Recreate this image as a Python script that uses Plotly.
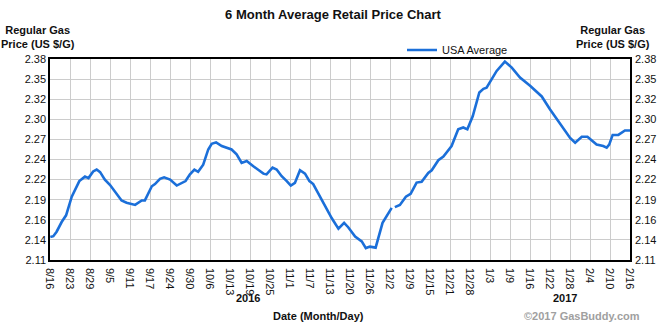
import numpy as np
import plotly.graph_objects as go

# Days since 2016-08-16 and the USA average regular gas price ($/gal)
days = [0.1, 1.05, 2.1, 3.7, 5.1, 6.9, 9.3, 11.1, 12.2, 13.7, 14.8, 15.9, 17.4, 19.0,
        22.7, 24.3, 27.0, 29.1, 30.1, 32.3, 33.3, 34.9, 36.2, 38.1, 40.2, 41.8, 43.0,
        44.4, 45.8, 47.0, 48.6, 50.2, 51.3, 52.7, 54.5, 57.6, 59.2, 60.8, 62.4, 64.5,
        67.7, 68.7, 70.6, 71.9, 73.5, 75.1, 76.4, 77.7, 79.3, 80.9, 82.3, 83.5, 85.7,
        87.6, 89.4, 91.5, 93.3, 94.6, 96.8, 98.9, 100.2, 101.5, 103.3, 105.5, 106.8,
        108.4, 108.9, 109.4, 111.0, 112.9, 114.4, 116.3, 117.9, 120.0, 121.1, 123.2,
        124.8, 127.4, 129.5, 131.1, 132.4, 134.1, 136.2, 137.5, 138.5, 141.7, 144.3,
        146.5, 149.1, 152.3, 156.0, 158.6, 162.8, 165.0, 166.6, 168.7, 170.5, 173.4,
        175.5, 176.6, 177.4, 178.5, 180.3, 182.4, 184.0]
prices = [2.141, 2.142, 2.148, 2.161, 2.170, 2.195, 2.216, 2.222, 2.220, 2.229, 2.2315,
          2.228, 2.218, 2.211, 2.190, 2.187, 2.184, 2.190, 2.190, 2.209, 2.212, 2.219,
          2.221, 2.218, 2.210, 2.2135, 2.216, 2.225, 2.2315, 2.2285, 2.238, 2.2585,
          2.266, 2.268, 2.263, 2.2585, 2.252, 2.2405, 2.243, 2.236, 2.226, 2.225, 2.234,
          2.2315, 2.2225, 2.216, 2.210, 2.2135, 2.2305, 2.226, 2.216, 2.212, 2.195,
          2.180, 2.166, 2.152, 2.160, 2.154, 2.1415, 2.135, 2.126, 2.128, 2.1266, 2.160,
          2.1685, 2.180, None, 2.181, 2.184, 2.195, 2.199, 2.214, 2.215, 2.227, 2.2305,
          2.244, 2.249, 2.263, 2.2855, 2.288, 2.2855, 2.303, 2.335, 2.340, 2.3415,
          2.364, 2.3765, 2.3685, 2.355, 2.344, 2.3297, 2.3125, 2.288, 2.274, 2.2675,
          2.2755, 2.2755, 2.265, 2.263, 2.261, 2.265, 2.278, 2.278, 2.284, 2.284]

date_labels = ["8/16", "8/23", "8/29", "9/5", "9/11", "9/17", "9/24", "9/30", "10/6",
               "10/13", "10/19", "10/25", "11/1", "11/7", "11/13", "11/20", "11/26",
               "12/2", "12/9", "12/15", "12/21", "12/28", "1/3", "1/9", "1/16", "1/22",
               "1/28", "2/4", "2/10", "2/16"]
price_labels = ["2.11", "2.14", "2.16", "2.19", "2.22", "2.24", "2.27", "2.30", "2.32",
                "2.35", "2.38"]
years = ["2016", "2017"]
series_name = "USA Average"

y_min, y_max = 2.11, 2.38
span_days = 184
x_ticks = list(np.linspace(0, span_days, len(date_labels)))
y_ticks = list(np.linspace(y_min, y_max, len(price_labels)))

FONT = "Liberation Sans, Arial, sans-serif"
LINE_COLOR = "#1b6fd9"

W, H = 670, 325
M_L, M_R, M_T, M_B = 50, 40, 59, 65
PLOT_W, PLOT_H = W - M_L - M_R, H - M_T - M_B


def px_to_paper(px, py):
    """Convert a pixel position on the page to paper coordinates."""
    return (px - M_L) / PLOT_W, (H - M_B - py) / PLOT_H


fig = go.Figure()
fig.add_trace(go.Scatter(
    x=days, y=prices, mode="lines", name=series_name,
    line=dict(color=LINE_COLOR, width=2.6), connectgaps=False,
    hoverinfo="x+y",
))
# Same series on the right-hand axis so it shows its own scale
fig.add_trace(go.Scatter(
    x=days, y=prices, mode="lines", yaxis="y2", showlegend=False,
    line=dict(color=LINE_COLOR, width=2.6), opacity=0, hoverinfo="skip",
))

axis_font = dict(family=FONT, size=11, color="#111111")
leg_x, leg_y = px_to_paper(402, 50)
fig.update_layout(
    width=W, height=H,
    margin=dict(l=M_L, r=M_R, t=M_T, b=M_B),
    paper_bgcolor="white", plot_bgcolor="white",
    font=dict(family=FONT, size=11, color="#111111"),
    title=dict(text="<b>6 Month Average Retail Price Chart</b>",
               x=0.497, xanchor="center", y=0.957, yanchor="middle",
               font=dict(family=FONT, size=13, color="#111111")),
    xaxis=dict(range=[0, span_days], tickmode="array", tickvals=x_ticks,
               ticktext=date_labels, tickangle=90, tickfont=axis_font,
               showgrid=True, gridcolor="#cccccc", gridwidth=1,
               showline=True, linecolor="black", linewidth=1.5, mirror=True,
               ticks="", zeroline=False, ticklabelstandoff=4),
    yaxis=dict(range=[y_min, y_max], tickmode="array", tickvals=y_ticks,
               ticktext=price_labels, tickfont=axis_font,
               showgrid=True, gridcolor="#cccccc", gridwidth=1,
               showline=True, linecolor="black", linewidth=1.5, mirror=True,
               ticks="", zeroline=False),
    yaxis2=dict(range=[y_min, y_max], tickmode="array", tickvals=y_ticks,
                ticktext=price_labels, tickfont=axis_font, overlaying="y",
                side="right", showgrid=False, showline=False, ticks="",
                zeroline=False, ticklabelstandoff=4),
    showlegend=True,
    legend=dict(x=leg_x, y=leg_y, xanchor="left", yanchor="middle",
                orientation="h", bgcolor="rgba(0,0,0,0)",
                font=dict(family=FONT, size=11, color="#111111"),
                tracegroupgap=0),
)

ann_font_bold = dict(family=FONT, size=11, color="#111111")
annotations = [
    dict(text="<b>Regular Gas<br>Price (US $/G)</b>", x=38, y=37),
    dict(text="<b>Regular Gas<br>Price (US $/G)</b>", x=613, y=37),
    dict(text="<b>" + years[0] + "</b>", x=248, y=298),
    dict(text="<b>" + years[1] + "</b>", x=565, y=298),
    dict(text="<b>Date (Month/Day)</b>", x=318, y=316),
]
for a in annotations:
    ax, ay = px_to_paper(a["x"], a["y"])
    fig.add_annotation(
        text=a["text"], x=ax, y=ay,
        xref="paper", yref="paper", xanchor="center", yanchor="middle",
        showarrow=False, font=ann_font_bold, align="center",
    )
cx, cy = px_to_paper(642, 316)
fig.add_annotation(
    text="<b>©2017 GasBuddy.com</b>", x=cx, y=cy,
    xref="paper", yref="paper", xanchor="right", yanchor="middle",
    showarrow=False, font=dict(family=FONT, size=11, color="#a0a0a0"),
)

fig.write_html("out.html")
